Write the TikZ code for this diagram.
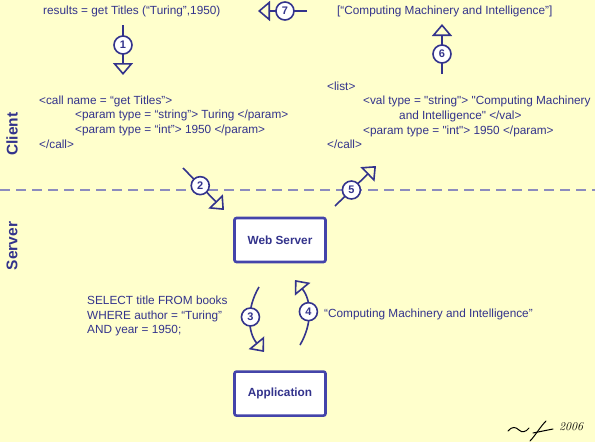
\documentclass[tikz,border=0pt]{standalone}
\usepackage{fontspec}
\setmainfont{Liberation Sans}[Ligatures=TeXOff]
\newfontfamily\sigfont{Latin Modern Roman}
\usetikzlibrary{arrows.meta,positioning}
\definecolor{paper}{RGB}{255,255,204}
\definecolor{ink}{RGB}{51,51,140}
\definecolor{boxline}{RGB}{68,68,170}
\definecolor{divider}{RGB}{140,140,190}
\newcommand*{\ind}{\hspace*{36pt}}

\begin{document}
\begin{tikzpicture}[x=1pt, y=1pt, >={Triangle[open,width=20pt,length=12pt]}, node distance=107pt]
\tikzstyle{txt}=[text=ink, inner sep=0pt, align=left, font=\fontsize{11.8}{14.6}\selectfont]
\tikzstyle{tier}=[draw=boxline, fill=white, line width=2.6pt, rounded corners=2pt, minimum width=91pt, minimum height=44pt, text=ink, font=\bfseries\fontsize{11.8}{14}\selectfont]
\tikzstyle{side}=[text=ink, rotate=90, font=\bfseries\fontsize{15.5}{16}\selectfont]
\tikzstyle{flow}=[->, draw=ink, line width=1.6pt]
\tikzstyle{badge}=[circle, draw=ink, fill=white, line width=1.6pt, inner sep=0pt, minimum size=18pt, text=ink, font=\bfseries\fontsize{11}{11}\selectfont]
\fill[paper] (0,0) rectangle (595,-442);
\useasboundingbox (0,0) rectangle (595,-442);
\draw[divider, line width=2pt, dash pattern=on 10pt off 6pt] (0,-190) -- (595,-190);

\node[txt, anchor=west]       (query)   at (43,-11)  {results = get Titles (“Turing”,1950)};
\node[txt, anchor=west]       (answer)  at (337,-11) {[“Computing Machinery and Intelligence”]};
\node[txt, anchor=north west] (request) at (39,-95.5) {<call name = “get Titles”>\\
  \ind <param type = “string”> Turing </param>\\
  \ind <param type = “int”> 1950 </param>\\
  </call>};
\node[txt, anchor=north west] (reply)   at (327,-81.5) {<list>\\
  \ind <val type = "string"> "Computing Machinery\\
  \ind\ind and Intelligence" </val>\\
  \ind <param type = "int"> 1950 </param>\\
  </call>};
\node[txt, anchor=north west] (sql)     at (87,-296) {SELECT title FROM books\\
  WHERE author = “Turing”\\
  AND year = 1950;};
\node[txt, anchor=west]       (result)  at (324,-314) {“Computing Machinery and Intelligence”};

\node[side] (client) at (12,-134) {Client};
\node[side] (server) at (12,-246) {Server};

\node[tier]             (web) at (280,-240) {Web Server};
\node[tier, below=of web] (app)               {Application};

\coordinate (s1) at (123,-25);  \coordinate (e1) at (123,-75);
\coordinate (s2) at (183,-168); \coordinate (e2) at (224,-210);
\coordinate (s3) at (259,-287); \coordinate (e3) at (264,-352);
\coordinate (s4) at (300,-345); \coordinate (e4) at (295,-280);
\coordinate (s5) at (335,-206); \coordinate (e5) at (376,-166);
\coordinate (s6) at (442,-74);  \coordinate (e6) at (442,-24);
\coordinate (s7) at (307,-11);  \coordinate (e7) at (258,-11);

\path
(s1) edge[flow]                node[badge, pos=0.4]  {1} (e1)
(s2) edge[flow]                node[badge, pos=0.42] {2} (e2)
(s3) edge[flow, bend right=35] node[badge, pos=0.45] {3} (e3)
(s4) edge[flow, bend right=35] node[badge, pos=0.5]  {4} (e4)
(s5) edge[flow]                node[badge, pos=0.4]  {5} (e5)
(s6) edge[flow]                node[badge, pos=0.4]  {6} (e6)
(s7) edge[flow]                node[badge, pos=0.45] {7} (e7);

\draw[black, line width=1pt, line cap=round] (508,-431) .. controls (512,-426) and (516,-427) .. (519,-430)
  .. controls (522,-433) and (526,-432) .. (529,-428);
\draw[black, line width=1pt, line cap=round] (546,-421) .. controls (540,-427) and (535,-436) .. (530,-441);
\draw[black, line width=1pt, line cap=round] (533,-433) -- (553,-429);
\node[anchor=west, inner sep=0pt, font=\sigfont\itshape\fontsize{12}{12}\selectfont] (year) at (559,-427) {2006};
\end{tikzpicture}
\end{document}
